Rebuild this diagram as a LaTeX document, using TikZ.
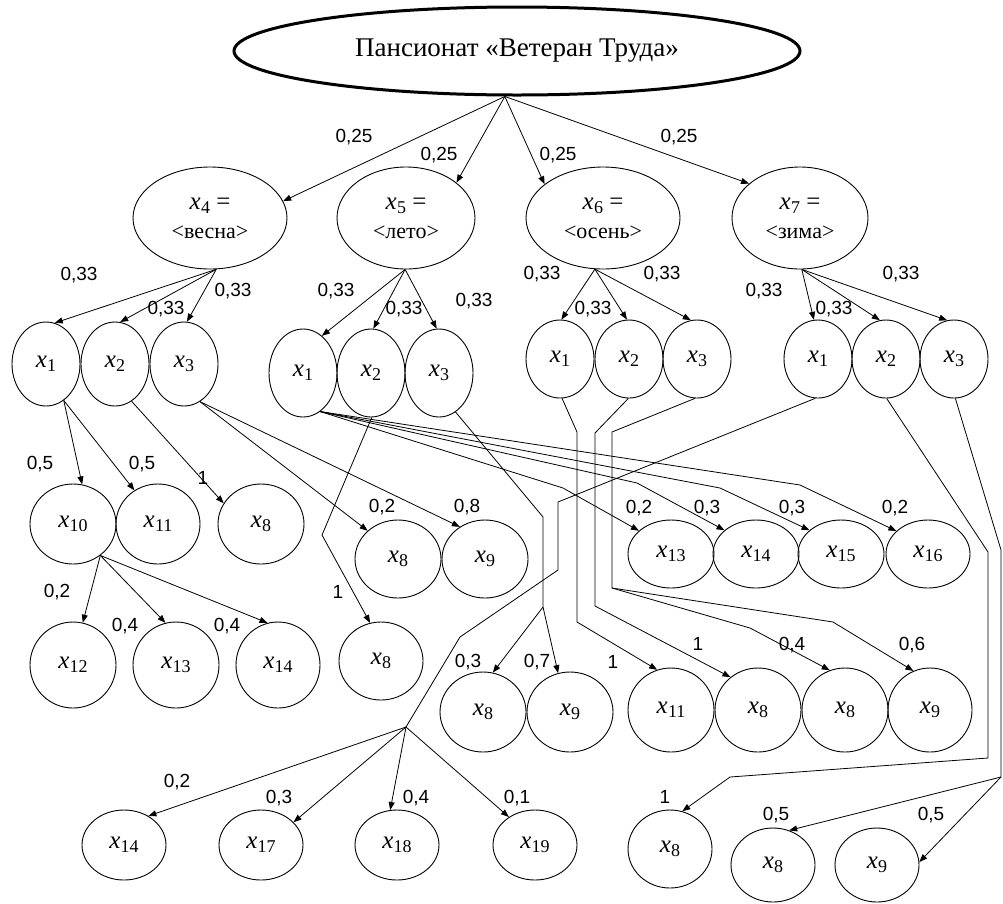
\documentclass[tikz,border=0pt]{standalone}
\usepackage{fontspec}
\setmainfont{Liberation Serif}
\newfontfamily\numfont{Liberation Sans}
\usetikzlibrary{shapes.geometric,arrows.meta}

% variable with an index: italic x, lowered upright subscript
\newcommand\xv[1]{\textit{x}\kern0.3pt\raisebox{-0.35ex}{\fontsize{18}{18}\selectfont #1}}

\begin{document}
\begin{tikzpicture}[x=1pt,y=-1pt,
  ell/.style={draw, ellipse, line width=0.9pt, inner sep=0pt},
  sz/.style 2 args={minimum width=#1pt, minimum height=#2pt},
  xf/.style={font=\fontsize{25}{27}\selectfont},
  season/.style={font=\fontsize{22}{24}\selectfont},
  lbl/.style={font=\numfont\fontsize{19}{20}\selectfont, inner sep=0pt},
  conn/.style={line width=0.8pt, -{Triangle[length=8pt,width=6pt]}},
]
\useasboundingbox (0,0) rectangle (1003,903);

% ---------- root ----------
\node[ell, line width=3pt, sz={566}{88}, font=\fontsize{27}{30}\selectfont] (T) at (517,51) {Пансионат «Ветеран Труда»};

% ---------- seasons ----------
\node[ell, sz={154}{102}, align=center, xf] (S4) at (210,218) {\xv{4} =\\[2pt]{\fontsize{22}{24}\selectfont <весна>}};
\node[ell, sz={138}{102}, align=center, xf] (S5) at (406,218) {\xv{5} =\\[2pt]{\fontsize{22}{24}\selectfont <лето>}};
\node[ell, sz={154}{102}, align=center, xf] (S6) at (603,218) {\xv{6} =\\[2pt]{\fontsize{22}{24}\selectfont <осень>}};
\node[ell, sz={136}{102}, align=center, xf] (S7) at (800,218) {\xv{7} =\\[2pt]{\fontsize{22}{24}\selectfont <зима>}};

\draw[conn] (T.255) -- (S4.13);
\draw[conn] (T.255) -- (S5.35);
\draw[conn] (T.255) -- (S6.150);
\draw[conn] (T.255) -- (S7.146);
\node[lbl] at (354,137) {0,25};
\node[lbl] at (439,155) {0,25};
\node[lbl] at (558,155) {0,25};
\node[lbl] at (679,137) {0,25};

% ---------- x1 x2 x3 groups ----------
\foreach \n/\cx in {1/46,2/115,3/184}
  \node[ell, sz={68}{84}, xf] (a\n) at (\cx,364) {\xv{\n}};
\foreach \n/\cx in {1/303,2/371,3/439}
  \node[ell, sz={68}{88}, xf] (b\n) at (\cx,373) {\xv{\n}};
\foreach \n/\cx in {1/560,2/629,3/697}
  \node[ell, sz={68}{78}, xf] (c\n) at (\cx,359) {\xv{\n}};
\foreach \n/\cx in {1/818,2/886,3/954}
  \node[ell, sz={68}{78}, xf] (d\n) at (\cx,359) {\xv{\n}};

\draw[conn] (S4.-83) -- (a1.78);
\draw[conn] (S4.-83) -- (a2.83);
\draw[conn] (S4.-83) -- (a3.86);
\draw[conn] (S5.-91) -- (b1.63);
\draw[conn] (S5.-91) -- (b2.87);
\draw[conn] (S5.-91) -- (b3.93);
\draw[conn] (S6.-99) -- (c1.88);
\draw[conn] (S6.-99) -- (c2.93);
\draw[conn] (S6.-99) -- (c3.99);
\draw[conn] (S7.-88) -- (d1.96);
\draw[conn] (S7.-88) -- (d2.99);
\draw[conn] (S7.-88) -- (d3.100);

\node[lbl] at (79,275) {0,33};
\node[lbl] at (166,309) {0,33};
\node[lbl] at (233,291) {0,33};
\node[lbl] at (336,291) {0,33};
\node[lbl] at (404,309) {0,33};
\node[lbl] at (474,301) {0,33};
\node[lbl] at (542,274) {0,33};
\node[lbl] at (593,309) {0,33};
\node[lbl] at (662,274) {0,33};
\node[lbl] at (764,291) {0,33};
\node[lbl] at (834,309) {0,33};
\node[lbl] at (901,274) {0,33};

% ---------- further states ----------
\node[ell, sz={86}{80}, xf] (n10)  at (73,524)  {\xv{10}};
\node[ell, sz={84}{80}, xf] (n11)  at (158,524) {\xv{11}};
\node[ell, sz={86}{80}, xf] (n8a)  at (261,524) {\xv{8}};
\node[ell, sz={86}{78}, xf] (n8b)  at (398,559) {\xv{8}};
\node[ell, sz={86}{78}, xf] (n9b)  at (485,559) {\xv{9}};
\node[ell, sz={86}{86}, xf] (n12)  at (73,665)  {\xv{12}};
\node[ell, sz={86}{86}, xf] (n13a) at (176,665) {\xv{13}};
\node[ell, sz={84}{86}, xf] (n14a) at (278,665) {\xv{14}};
\node[ell, sz={84}{78}, xf] (n8c)  at (381,661) {\xv{8}};
\node[ell, sz={86}{68}, xf] (n13b) at (671,554) {\xv{13}};
\node[ell, sz={86}{68}, xf] (n14b) at (756,554) {\xv{14}};
\node[ell, sz={86}{68}, xf] (n15b) at (841,554) {\xv{15}};
\node[ell, sz={84}{68}, xf] (n16b) at (928,554) {\xv{16}};
\node[ell, sz={86}{80}, xf] (n8d)  at (483,712) {\xv{8}};
\node[ell, sz={86}{80}, xf] (n9d)  at (570,712) {\xv{9}};
\node[ell, sz={86}{84}, xf] (n11b) at (671,710) {\xv{11}};
\node[ell, sz={86}{84}, xf] (n8e)  at (758,710) {\xv{8}};
\node[ell, sz={86}{84}, xf] (n8f)  at (845,710) {\xv{8}};
\node[ell, sz={84}{84}, xf] (n9e)  at (930,710) {\xv{9}};
\node[ell, sz={84}{70}, xf] (n14c) at (124,845) {\xv{14}};
\node[ell, sz={84}{70}, xf] (n17)  at (261,845) {\xv{17}};
\node[ell, sz={84}{70}, xf] (n18)  at (397,845) {\xv{18}};
\node[ell, sz={84}{70}, xf] (n19)  at (535,845) {\xv{19}};
\node[ell, sz={84}{78}, xf] (n8g)  at (670,849) {\xv{8}};
\node[ell, sz={84}{74}, xf] (n8h)  at (773,865) {\xv{8}};
\node[ell, sz={84}{74}, xf] (n9h)  at (877,865) {\xv{9}};

% bend points of the routed connectors
\coordinate (p1) at (322,535);
\coordinate (q13) at (563,488);
\coordinate (q14) at (637,483);
\coordinate (q15) at (720,488);
\coordinate (q16) at (800,485);
\coordinate (r1) at (543,517);
\coordinate (r2) at (543,607);
\coordinate (s1) at (577,432);
\coordinate (s2) at (577,622);
\coordinate (t1) at (595,433);
\coordinate (t2) at (595,606);
\coordinate (u1) at (612,432);
\coordinate (u2) at (612,588);
\coordinate (u3) at (833,622);
\coordinate (u4) at (750,628);
\coordinate (v1) at (558,502);
\coordinate (v2) at (558,570);
\coordinate (v3) at (460,637);
\coordinate (v4) at (406,727);
\coordinate (w1) at (988,552);
\coordinate (w2) at (988,758);
\coordinate (w3) at (730,777);
\coordinate (z1) at (1001,550);
\coordinate (z2) at (1001,777);

% from the first group
\draw[conn] (a1.-64) -- (n10.77);
\draw[conn] (a1.-64) -- (n11.125);
\draw[conn] (a2.-66) -- (n8a.151);
\draw[conn] (a3.-67) -- (n8b.137);
\draw[conn] (a3.-67) -- (n9b.128);
\draw[conn] (n10.-49) -- (n12.77);
\draw[conn] (n10.-49) -- (n13a.104);
\draw[conn] (n10.-49) -- (n14a.104);
\node[lbl] at (40,464) {0,5};
\node[lbl] at (142,464) {0,5};
\node[lbl] at (203,478) {1};
\node[lbl] at (382,507) {0,2};
\node[lbl] at (467,507) {0,8};
\node[lbl] at (57,592) {0,2};
\node[lbl] at (125,626) {0,4};
\node[lbl] at (227,626) {0,4};

% from the second group
\draw[conn] (b2.-89) -- (p1) -- (n8c.106);
\node[lbl] at (338,592) {1};
\draw[conn] (b1.-66) -- (q13) -- (n13b.144);
\draw[conn] (b1.-66) -- (q14) -- (n14b.143);
\draw[conn] (b1.-66) -- (q15) -- (n15b.143);
\draw[conn] (b1.-66) -- (q16) -- (n16b.144);
\node[lbl] at (639,508) {0,2};
\node[lbl] at (707,508) {0,3};
\node[lbl] at (792,508) {0,3};
\node[lbl] at (895,508) {0,2};
\draw[conn] (b3.-67) -- (r1) -- (r2) -- (n8d.76);
\draw[conn] (r2) -- (n9d.107);
\node[lbl] at (468,662) {0,3};
\node[lbl] at (537,662) {0,7};

% from the third group
\draw[conn] (c1.-87) -- (s1) -- (s2) -- (n11b.109);
\draw[conn] (c2.-91) -- (t1) -- (t2) -- (n8e.130);
\draw[conn] (c3.-93) -- (u1) -- (u2) -- (u3) -- (n9e.113);
\draw[conn] (u2) -- (u4) -- (n8f.111);
\node[lbl] at (613,662) {1};
\node[lbl] at (698,644) {1};
\node[lbl] at (792,645) {0,4};
\node[lbl] at (912,645) {0,6};

% from the fourth group
\draw[conn] (d1.-94) -- (v1) -- (v2) -- (v3) -- (v4) -- (n14c.50);
\draw[conn] (v4) -- (n17.35);
\draw[conn] (v4) -- (n18.101);
\draw[conn] (v4) -- (n19.133);
\node[lbl] at (177,782) {0,2};
\node[lbl] at (279,798) {0,3};
\node[lbl] at (416,798) {0,4};
\node[lbl] at (517,798) {0,1};
\draw[conn] (d2.-89) -- (w1) -- (w2) -- (w3) -- (n8g.72);
\node[lbl] at (665,797) {1};
\draw[conn] (d3.-88) -- (z1) -- (z2) -- (n8h.65);
\draw[conn] (z2) -- (n9h.4);
\node[lbl] at (776,815) {0,5};
\node[lbl] at (931,815) {0,5};
\end{tikzpicture}
\end{document}
